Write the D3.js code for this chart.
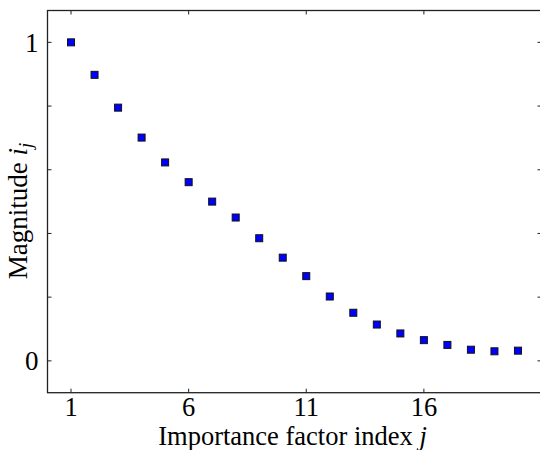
<!DOCTYPE html>
<html>
<head>
<meta charset="utf-8">
<script src="https://cdn.jsdelivr.net/npm/d3@7"></script>
<style>
  html, body { margin: 0; padding: 0; background: #fff; }
  svg { display: block; }
</style>
</head>
<body>
<svg id="chart" width="540" height="450"></svg>
<script>
// Data
const indices = [1,2,3,4,5,6,7,8,9,10,11,12,13,14,15,16,17,18,19,20];
const magnitudes = [1.0, 0.898, 0.795, 0.701, 0.623, 0.561, 0.500, 0.450, 0.385, 0.324,
                    0.266, 0.202, 0.151, 0.114, 0.086, 0.065, 0.050, 0.035, 0.030, 0.032];
const xTicks = [1, 6, 11, 16];
const xTickLabels = ["1", "6", "11", "16"];
const yTicks = [0, 0.2, 0.4, 0.6, 0.8, 1];
const yTickLabels = {0: "0", 1: "1"};
const xDomain = [0, 21];
const yDomain = [-0.1, 1.1];

(function () {
const FONT = "'Liberation Serif', 'Times New Roman', Times, serif";
const svg = d3.select("#chart").attr("font-family", FONT);
const mLeft = 47.5, mRight = 541.5, mTop = 10.5, mBottom = 392.7;

const x = d3.scaleLinear().domain(xDomain).range([mLeft, mRight]);
const y = d3.scaleLinear().domain(yDomain).range([mBottom, mTop]);

const tickLen = 4;
const fs = 27;
const tfs = 26.5;

// spines
svg.append("rect").attr("x", mLeft).attr("y", mTop)
  .attr("width", mRight - mLeft).attr("height", mBottom - mTop)
  .attr("fill", "none").attr("stroke", "#222").attr("stroke-width", 1.3);

const tk = svg.append("g").attr("stroke", "#222").attr("stroke-width", 1);
xTicks.forEach(t => {
  tk.append("line").attr("x1", x(t)).attr("x2", x(t)).attr("y1", mBottom).attr("y2", mBottom - tickLen);
  tk.append("line").attr("x1", x(t)).attr("x2", x(t)).attr("y1", mTop).attr("y2", mTop + tickLen);
});
yTicks.forEach(t => {
  tk.append("line").attr("x1", mLeft).attr("x2", mLeft + tickLen).attr("y1", y(t)).attr("y2", y(t));
  tk.append("line").attr("x1", mRight).attr("x2", mRight - tickLen).attr("y1", y(t)).attr("y2", y(t));
});

// x tick labels
svg.append("g").selectAll("text").data(xTicks).join("text")
  .attr("font-family", FONT)
  .attr("x", d => x(d)).attr("y", 415.5)
  .attr("text-anchor", "middle").attr("font-size", tfs)
  .text((d, i) => xTickLabels[i]);

// y tick labels
svg.append("g").selectAll("text").data(yTicks.filter(d => yTickLabels[d] !== undefined)).join("text")
  .attr("font-family", FONT)
  .attr("x", mLeft - 9).attr("y", d => y(d) + 9.5)
  .attr("text-anchor", "end").attr("font-size", fs)
  .text(d => yTickLabels[d]);

// x label
const xl = svg.append("text")
  .attr("font-family", FONT)
  .attr("x", 292.5).attr("y", 444.5)
  .attr("text-anchor", "middle").attr("font-size", 26.5);
xl.append("tspan").text("Importance factor index ");
xl.append("tspan").attr("font-style", "italic").text("j");

// y label
const yl = svg.append("text")
  .attr("font-family", FONT)
  .attr("transform", `translate(27,211) rotate(-90)`)
  .attr("text-anchor", "middle").attr("font-size", fs);
yl.append("tspan").text("Magnitude ");
yl.append("tspan").attr("font-style", "italic").text("i");
yl.append("tspan").attr("font-style", "italic").attr("font-size", fs * 0.7).attr("dy", 5).text("j");

// markers
const ms = 7;
svg.append("g").selectAll("rect").data(indices).join("rect")
  .attr("x", d => x(d) - ms / 2)
  .attr("y", (d, i) => y(magnitudes[i]) - ms / 2)
  .attr("width", ms).attr("height", ms)
  .attr("fill", "#0000ff").attr("stroke", "#111").attr("stroke-width", 1);
})();
</script>
</body>
</html>
